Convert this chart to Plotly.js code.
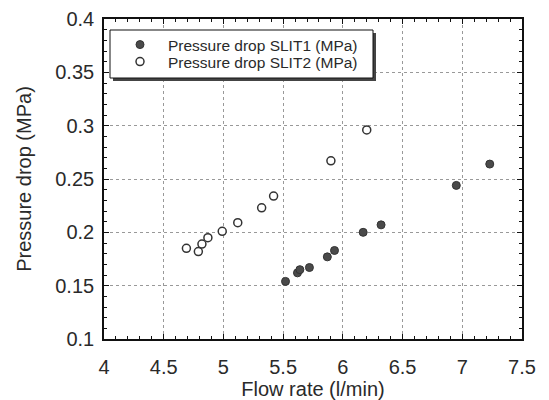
<!DOCTYPE html>
<html>
<head>
<meta charset="utf-8">
<script src="https://cdn.plot.ly/plotly-3.0.1.min.js"></script>
<style>html,body{margin:0;padding:0;background:#fff;}#chart{width:549px;height:400px;}</style>
</head>
<body>
<div id="chart"></div>
<script>
// Data
const slit1Flow = [5.52, 5.62, 5.64, 5.72, 5.87, 5.93, 6.17, 6.32, 6.95, 7.23];
const slit1Drop = [0.154, 0.162, 0.165, 0.167, 0.177, 0.183, 0.200, 0.207, 0.244, 0.264];
const slit2Flow = [4.69, 4.79, 4.82, 4.87, 4.99, 5.12, 5.32, 5.42, 5.90, 6.20];
const slit2Drop = [0.185, 0.182, 0.189, 0.195, 0.201, 0.209, 0.223, 0.234, 0.267, 0.296];
const seriesNames = ['Pressure drop SLIT1 (MPa)', 'Pressure drop SLIT2 (MPa)'];
const xTitle = 'Flow rate (l/min)';
const yTitle = 'Pressure drop (MPa)';

const W = 549, H = 400;
const M = {l: 104, r: 27, t: 19, b: 61};
const pw = W - M.l - M.r, ph = H - M.t - M.b;
const px = v => (v - M.l) / pw;
const py = v => 1 - (v - M.t) / ph;

const font = '"Liberation Sans", Arial, sans-serif';
const ink = '#2a2a2a';

const traces = [
  {x: slit1Flow, y: slit1Drop, name: seriesNames[0], type: 'scatter', mode: 'markers', legend: 'legend',
   marker: {symbol: 'circle', size: 8, color: '#4a4a4a', line: {color: '#333', width: 1}}},
  {x: slit2Flow, y: slit2Drop, name: seriesNames[1], type: 'scatter', mode: 'markers', legend: 'legend2',
   marker: {symbol: 'circle', size: 8, color: '#fff', line: {color: '#333', width: 1.5}}}
];

const axisCommon = {
  showline: true, linecolor: '#111', linewidth: 1.8, mirror: 'allticks',
  ticks: 'inside', ticklen: 5, tickcolor: '#111', tickwidth: 1,
  showgrid: true, gridcolor: '#999', griddash: 'dot', gridwidth: 1,
  zeroline: false, tickfont: {family: font, size: 20, color: ink}
};

const legendCommon = {
  xanchor: 'left', yanchor: 'middle',
  bgcolor: 'rgba(0,0,0,0)', borderwidth: 0,
  font: {family: font, size: 15.5, color: ink}, itemwidth: 46
};

const layout = {
  width: W, height: H,
  margin: M,
  paper_bgcolor: '#fff', plot_bgcolor: '#fff',
  showlegend: true,
  legend: Object.assign({}, legendCommon, {x: px(112), y: py(45)}),
  legend2: Object.assign({}, legendCommon, {x: px(112), y: py(62)}),
  xaxis: Object.assign({}, axisCommon, {
    range: [4, 7.5], dtick: 0.5, tick0: 4, ticklabelstandoff: 9,
    minor: {dtick: 0.1, ticks: 'inside', ticklen: 3, tickcolor: '#111', showgrid: false},
    title: {text: xTitle, font: {family: font, size: 20, color: ink}, standoff: 2}
  }),
  yaxis: Object.assign({}, axisCommon, {
    range: [0.1, 0.4], dtick: 0.05, tick0: 0.1, ticklabelstandoff: 4,
    minor: {dtick: 0.01, ticks: 'inside', ticklen: 3, tickcolor: '#111', showgrid: false},
    title: {text: yTitle, font: {family: font, size: 20, color: ink}, standoff: 18}
  }),
  shapes: [
    {type: 'rect', xref: 'paper', yref: 'paper', layer: 'above',
     x0: px(113), x1: px(376), y0: py(33), y1: py(81),
     fillcolor: '#444', line: {width: 0}},
    {type: 'rect', xref: 'paper', yref: 'paper', layer: 'above',
     x0: px(110), x1: px(373), y0: py(30), y1: py(78),
     fillcolor: '#fff', line: {width: 1, color: '#111'}}
  ]
};

Plotly.newPlot('chart', traces, layout, {displayModeBar: false, staticPlot: true});
</script>
</body>
</html>
